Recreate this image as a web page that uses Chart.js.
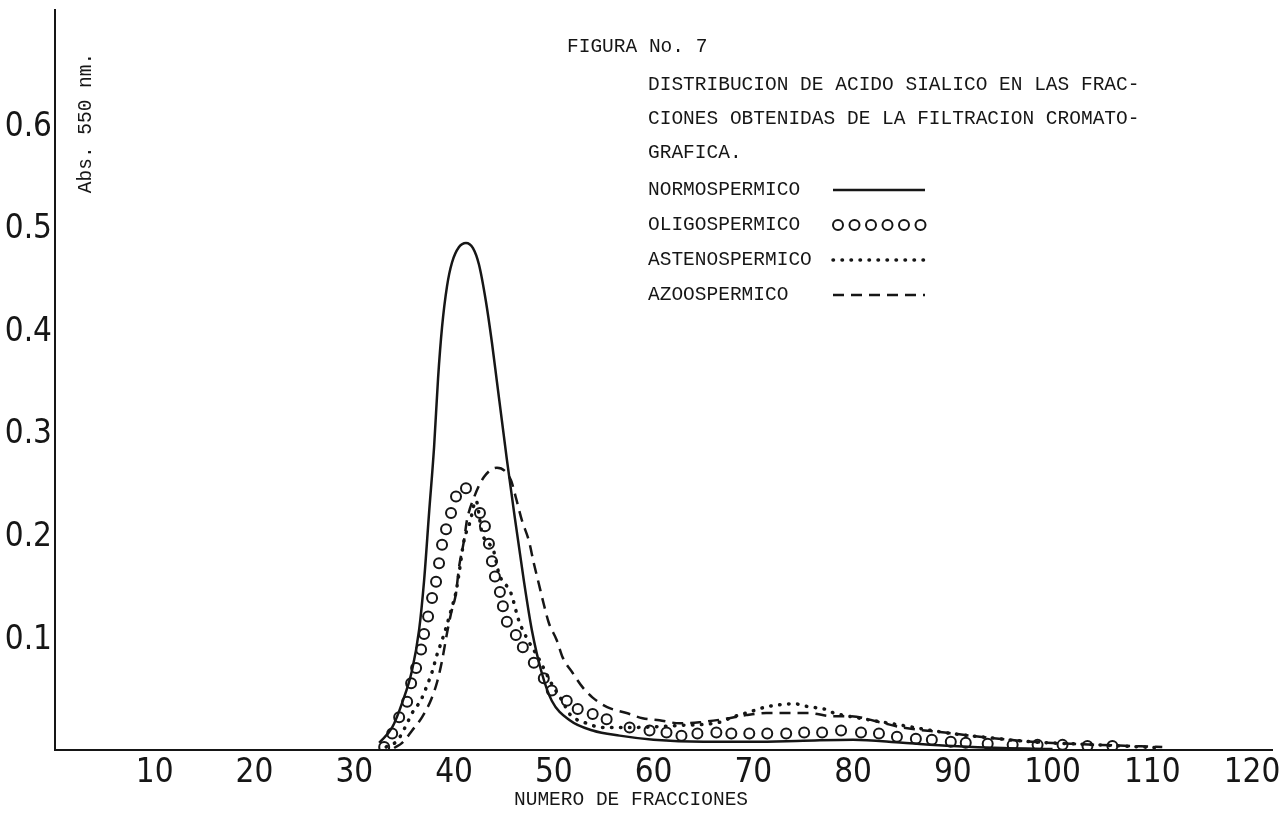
<!DOCTYPE html>
<html>
<head>
<meta charset="utf-8">
<script src="https://cdn.jsdelivr.net/npm/chart.js@4.4.1/dist/chart.umd.min.js"></script>
<style>
  html, body { margin: 0; padding: 0; background: #fff; }
  #wrap { width: 1279px; height: 813px; }
</style>
</head>
<body>
<div id="wrap"><canvas id="chart" width="1279" height="813"></canvas></div>
<script>
// figura 7 - acido sialico por fraccion

const xTicks = [10, 20, 30, 40, 50, 60, 70, 80, 90, 100, 110, 120];
const yTicks = [0.1, 0.2, 0.3, 0.4, 0.5, 0.6];

const seriesNames = ["NORMOSPERMICO", "OLIGOSPERMICO", "ASTENOSPERMICO", "AZOOSPERMICO"];

// normospermico (linea continua)
const normoX = [32.5, 33.8, 34.8, 35.8, 36.5, 37.0, 37.5, 38.0, 38.4, 38.8, 39.3, 39.8, 40.5, 41.2, 41.9, 42.5, 43.2, 43.8, 44.3, 44.8, 45.3, 46.0, 47.0, 47.8, 48.8, 49.8, 51.6, 53.9, 56.6, 60.0, 65.0, 70.0, 75.0, 80.0, 85.0, 90.0, 95.0, 100.0];
const normoY = [0.0, 0.015, 0.039, 0.071, 0.110, 0.158, 0.224, 0.288, 0.355, 0.405, 0.445, 0.468, 0.483, 0.487, 0.482, 0.466, 0.430, 0.390, 0.352, 0.314, 0.276, 0.226, 0.158, 0.110, 0.068, 0.041, 0.022, 0.012, 0.007, 0.003, 0.001, 0.001, 0.002, 0.003, 0.0, -0.003, -0.005, -0.006];

// oligospermico (circulos)
const oligoX = [33.0, 33.8, 34.5, 35.3, 35.7, 36.2, 36.7, 37.0, 37.4, 37.8, 38.2, 38.5, 38.8, 39.2, 39.7, 40.2, 41.2, 42.6, 43.1, 43.5, 43.8, 44.1, 44.6, 44.9, 45.3, 46.2, 46.9, 48.0, 49.0, 49.8, 51.3, 52.4, 53.9, 55.3, 57.6, 59.6, 61.3, 62.8, 64.4, 66.3, 67.8, 69.6, 71.4, 73.3, 75.1, 76.9, 78.8, 80.8, 82.6, 84.4, 86.3, 87.9, 89.8, 91.3, 93.5, 96.0, 98.5, 101.0, 103.5, 106.0];
const oligoY = [-0.004, 0.009, 0.025, 0.040, 0.058, 0.073, 0.091, 0.106, 0.123, 0.141, 0.157, 0.175, 0.193, 0.208, 0.224, 0.240, 0.248, 0.224, 0.211, 0.194, 0.177, 0.162, 0.147, 0.133, 0.118, 0.105, 0.093, 0.078, 0.063, 0.051, 0.041, 0.033, 0.028, 0.023, 0.015, 0.012, 0.010, 0.007, 0.009, 0.010, 0.009, 0.009, 0.009, 0.009, 0.010, 0.010, 0.012, 0.010, 0.009, 0.006, 0.004, 0.003, 0.001, 0.0, -0.001, -0.002, -0.002, -0.002, -0.003, -0.003];

// astenospermico (puntos)
const astenoX = [33.2, 34.3, 35.2, 35.8, 36.7, 37.3, 37.8, 38.3, 38.8, 39.2, 39.7, 40.2, 40.5, 41.0, 41.6, 42.2, 42.8, 44.0, 44.5, 45.7, 46.5, 47.3, 48.5, 49.7, 50.9, 51.6, 53.3, 54.9, 58.0, 62.6, 66.6, 67.9, 69.6, 71.3, 72.6, 74.1, 75.6, 77.1, 78.1, 80.1, 84.9, 89.2, 93.6, 97.9, 104.6, 111.0];
const astenoY = [-0.004, 0.002, 0.017, 0.029, 0.042, 0.056, 0.069, 0.086, 0.100, 0.112, 0.129, 0.147, 0.165, 0.197, 0.215, 0.236, 0.205, 0.186, 0.165, 0.146, 0.119, 0.102, 0.082, 0.059, 0.040, 0.028, 0.019, 0.015, 0.015, 0.017, 0.020, 0.025, 0.030, 0.035, 0.037, 0.038, 0.035, 0.033, 0.029, 0.025, 0.017, 0.010, 0.005, 0.001, -0.002, -0.005];

// azoospermico (guiones)
const azooX = [34.0, 34.8, 35.8, 36.8, 37.7, 38.3, 38.8, 39.3, 39.7, 40.2, 40.5, 41.0, 41.3, 42.0, 43.0, 44.3, 45.7, 46.2, 46.8, 47.5, 48.0, 48.5, 49.0, 49.5, 50.3, 50.9, 51.9, 52.9, 53.9, 55.3, 57.3, 58.9, 60.6, 62.6, 64.6, 67.0, 69.3, 71.3, 73.3, 75.6, 77.8, 79.7, 82.7, 84.9, 89.2, 93.6, 97.9, 104.6, 111.0];
const azooY = [-0.005, 0.0, 0.012, 0.025, 0.042, 0.059, 0.080, 0.107, 0.126, 0.146, 0.171, 0.197, 0.217, 0.239, 0.259, 0.268, 0.256, 0.239, 0.217, 0.197, 0.175, 0.155, 0.135, 0.117, 0.100, 0.083, 0.068, 0.054, 0.044, 0.035, 0.029, 0.024, 0.022, 0.019, 0.020, 0.023, 0.027, 0.029, 0.029, 0.029, 0.026, 0.026, 0.020, 0.015, 0.010, 0.005, 0.001, -0.002, -0.004];

const figureTitle = "FIGURA No. 7";
const captionLines = [
    "DISTRIBUCION DE ACIDO SIALICO EN LAS FRAC-",
    "CIONES OBTENIDAS DE LA FILTRACION CROMATO-",
    "GRAFICA."
];
const xTitle = "NUMERO DE FRACCIONES";
const yTitle = "Abs. 550 nm.";

const ink = "#161616";
const monoFont = '19.5px "Liberation Mono", "DejaVu Sans Mono", monospace';
const tickFont = { family: '"Liberation Sans Narrow", "DejaVu Sans Condensed", "Arial Narrow", sans-serif', size: 33 };

const toPoints = (xs, ys) => xs.map((x, i) => ({ x, y: ys[i] }));

// caption block, axis titles and the hand-made legend
const captionPlugin = {
    id: "caption",
    afterDraw(chart) {
        const ctx = chart.ctx;
        ctx.save();
        ctx.fillStyle = ink;
        ctx.strokeStyle = ink;
        ctx.font = monoFont;
        ctx.textBaseline = "middle";
        ctx.textAlign = "left";

        ctx.fillText(figureTitle, 567, 47);
        captionLines.forEach((t, i) => ctx.fillText(t, 648, 85 + i * 34));

        const x0 = 833, x1 = 925;
        seriesNames.forEach((name, i) => {
            const y = 190 + i * 35;
            ctx.fillText(name, 648, y);
            const ds = chart.data.datasets[i];
            ctx.save();
            if (i === 1) {
                ctx.lineWidth = ds.pointBorderWidth;
                for (let k = 0; k < 6; k++) {
                    ctx.beginPath();
                    ctx.arc(x0 + 5 + k * 16.5, y, ds.pointRadius, 0, Math.PI * 2);
                    ctx.stroke();
                }
            } else {
                ctx.lineWidth = ds.borderWidth;
                ctx.lineCap = ds.borderCapStyle || "butt";
                ctx.setLineDash(ds.borderDash || []);
                ctx.beginPath();
                ctx.moveTo(x0, y);
                ctx.lineTo(x1, y);
                ctx.stroke();
            }
            ctx.restore();
        });

        ctx.fillText(xTitle, 514, 800);

        ctx.translate(86, 123);
        ctx.rotate(-Math.PI / 2);
        ctx.textAlign = "center";
        ctx.fillText(yTitle, 0, 0);
        ctx.restore();
    }
};

const ctx = document.getElementById("chart").getContext("2d");

new Chart(ctx, {
    type: "line",
    data: {
        datasets: [
            {
                label: seriesNames[0],
                data: toPoints(normoX, normoY),
                borderColor: ink,
                borderWidth: 2.5,
                pointRadius: 0,
                cubicInterpolationMode: "monotone",
                fill: false
            },
            {
                label: seriesNames[1],
                data: toPoints(oligoX, oligoY),
                showLine: false,
                borderColor: ink,
                pointStyle: "circle",
                pointRadius: 5,
                pointBorderWidth: 2,
                pointBorderColor: ink,
                pointBackgroundColor: "rgba(255,255,255,0)",
                fill: false
            },
            {
                label: seriesNames[2],
                data: toPoints(astenoX, astenoY),
                borderColor: ink,
                borderWidth: 3.5,
                borderDash: [0.5, 8.5],
                borderCapStyle: "round",
                pointRadius: 0,
                cubicInterpolationMode: "monotone",
                fill: false
            },
            {
                label: seriesNames[3],
                data: toPoints(azooX, azooY),
                borderColor: ink,
                borderWidth: 2.5,
                borderDash: [11, 7],
                pointRadius: 0,
                cubicInterpolationMode: "monotone",
                fill: false
            }
        ]
    },
    options: {
        responsive: false,
        animation: false,
        devicePixelRatio: 1,
        layout: { padding: { top: 10, right: 0, bottom: 0, left: 0 } },
        plugins: {
            legend: { display: false },
            tooltip: { enabled: false }
        },
        scales: {
            x: {
                type: "linear",
                min: 0,
                max: 122.0,
                afterBuildTicks: (scale) => { scale.ticks = xTicks.map(v => ({ value: v })); },
                afterFit: (scale) => {
                    scale.height = 63;
                    scale.paddingLeft = 0;
                    scale.paddingRight = 0;
                },
                grid: { display: false, drawTicks: false },
                border: { display: true, color: ink, width: 2 },
                ticks: {
                    autoSkip: false,
                    maxRotation: 0,
                    padding: 4,
                    color: ink,
                    font: tickFont,
                    callback: (v) => String(v)
                }
            },
            y: {
                type: "linear",
                min: -0.007,
                max: 0.714,
                afterBuildTicks: (scale) => { scale.ticks = yTicks.map(v => ({ value: v })); },
                afterFit: (scale) => {
                    scale.width = 55;
                    scale.paddingTop = 0;
                    scale.paddingBottom = 0;
                },
                grid: { display: false, drawTicks: false },
                border: { display: true, color: ink, width: 2 },
                ticks: {
                    padding: 3,
                    color: ink,
                    font: tickFont,
                    callback: (v) => Number(v).toFixed(1)
                }
            }
        }
    },
    plugins: [captionPlugin]
});
</script>
</body>
</html>
